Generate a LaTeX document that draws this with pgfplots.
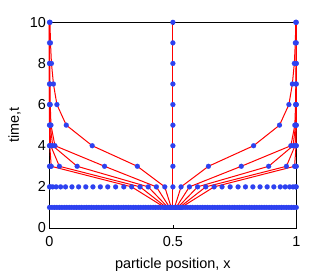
\documentclass[border=0pt]{standalone}
\usepackage{fontspec}
\setmainfont{Liberation Sans}
\usepackage{pgfplots}
\pgfplotsset{compat=1.18}
\definecolor{dotblue}{RGB}{45,65,240}
\definecolor{trajred}{RGB}{255,0,0}
\begin{document}
\begin{tikzpicture}
\useasboundingbox (-49.5bp,-45bp) rectangle (277.5bp,228bp);
\begin{axis}[
  at={(0,0)}, anchor=south west,
  scale only axis,
  width=246.8bp, height=205.7bp,
  xmin=0, xmax=1, ymin=0, ymax=10,
  clip=false,
  xtick={0,0.5,1}, xticklabels={0,0.5,1},
  ytick={0,2,4,6,8,10},
  tick align=inside, tick pos=both,
  major tick length=2.5bp,
  axis line style={line width=0.6bp, black},
  every tick/.style={black, line width=0.5bp},
  /pgf/number format/assume math mode=true,
  tick label style={font=\fontsize{14.5}{15}\selectfont},
  xticklabel style={yshift=-5bp},
  label style={font=\fontsize{14.5}{15}\selectfont},
  xlabel={particle position, x},
  ylabel={time,t},
  xlabel style={at={(axis description cs:0.5,-0.1945)}, anchor=base},
  ylabel style={at={(axis description cs:-0.142,0.5)}, anchor=center},
  traj/.style={draw=trajred, line width=1bp, mark=none},
]
% trajectories (red)
\addplot[traj] coordinates {(0.5,1)(0.5,2)(0.5,3)(0.5,4)(0.5,5)(0.5,6)(0.5,7)(0.5,8)(0.5,9)(0.5,10)};
\addplot[traj] coordinates {(0.4933,1)(0.467,2)(0.356,3)(0.173,4)(0.068,5)(0.030,6)(0.016,7)(0.008,8)(0.004,9)(0.002,10)};
\addplot[traj] coordinates {(0.4867,1)(0.433,2)(0.223,3)(0.022,4)(0.006,5)(0.003,6)(0.002,7)(0.001,8)(0,9)(0,10)};
\addplot[traj] coordinates {(0.48,1)(0.400,2)(0.112,3)(0.013,4)(0.003,5)(0.001,6)(0,7)(0,8)(0,9)(0,10)};
\addplot[traj] coordinates {(0.4733,1)(0.367,2)(0.040,3)(0.005,4)(0.001,5)(0,6)(0,7)(0,8)(0,9)(0,10)};
\addplot[traj] coordinates {(0.4667,1)(0.333,2)(0.007,3)(0.001,4)(0,5)(0,6)(0,7)(0,8)(0,9)(0,10)};
\addplot[traj] coordinates {(0.5067,1)(0.533,2)(0.644,3)(0.827,4)(0.932,5)(0.970,6)(0.984,7)(0.992,8)(0.996,9)(0.998,10)};
\addplot[traj] coordinates {(0.5133,1)(0.567,2)(0.777,3)(0.978,4)(0.994,5)(0.997,6)(0.998,7)(0.999,8)(1,9)(1,10)};
\addplot[traj] coordinates {(0.52,1)(0.600,2)(0.888,3)(0.987,4)(0.997,5)(0.999,6)(1,7)(1,8)(1,9)(1,10)};
\addplot[traj] coordinates {(0.5267,1)(0.633,2)(0.960,3)(0.995,4)(0.999,5)(1,6)(1,7)(1,8)(1,9)(1,10)};
\addplot[traj] coordinates {(0.5333,1)(0.667,2)(0.993,3)(0.999,4)(1,5)(1,6)(1,7)(1,8)(1,9)(1,10)};
% particles (blue)
\addplot[only marks, color=dotblue, mark=*, mark size=2.5bp, mark options={draw=dotblue, fill=dotblue, line width=0.1bp}] coordinates {
(0,1)(0.01,1)(0.02,1)(0.03,1)(0.04,1)(0.05,1)(0.06,1)(0.07,1)(0.08,1)(0.09,1)
(0.1,1)(0.11,1)(0.12,1)(0.13,1)(0.14,1)(0.15,1)(0.16,1)(0.17,1)(0.18,1)(0.19,1)
(0.2,1)(0.21,1)(0.22,1)(0.23,1)(0.24,1)(0.25,1)(0.26,1)(0.27,1)(0.28,1)(0.29,1)
(0.3,1)(0.31,1)(0.32,1)(0.33,1)(0.34,1)(0.35,1)(0.36,1)(0.37,1)(0.38,1)(0.39,1)
(0.4,1)(0.41,1)(0.42,1)(0.43,1)(0.44,1)(0.45,1)(0.46,1)(0.47,1)(0.48,1)(0.49,1)
(0.5,1)(0.51,1)(0.52,1)(0.53,1)(0.54,1)(0.55,1)(0.56,1)(0.57,1)(0.58,1)(0.59,1)
(0.6,1)(0.61,1)(0.62,1)(0.63,1)(0.64,1)(0.65,1)(0.66,1)(0.67,1)(0.68,1)(0.69,1)
(0.7,1)(0.71,1)(0.72,1)(0.73,1)(0.74,1)(0.75,1)(0.76,1)(0.77,1)(0.78,1)(0.79,1)
(0.8,1)(0.81,1)(0.82,1)(0.83,1)(0.84,1)(0.85,1)(0.86,1)(0.87,1)(0.88,1)(0.89,1)
(0.9,1)(0.91,1)(0.92,1)(0.93,1)(0.94,1)(0.95,1)(0.96,1)(0.97,1)(0.98,1)(0.99,1)(1,1)
(0.4667,1)(0.4733,1)(0.4867,1)(0.4933,1)(0.5067,1)(0.5133,1)(0.5267,1)(0.5333,1)
(0,2)(0.003,2)(0.013,2)(0.027,2)(0.045,2)(0.065,2)(0.091,2)(0.118,2)(0.147,2)(0.176,2)
(0.206,2)(0.236,2)(0.268,2)(0.301,2)(0.333,2)(0.367,2)(0.400,2)(0.433,2)(0.467,2)(0.5,2)
(0.533,2)(0.567,2)(0.600,2)(0.633,2)(0.667,2)(0.699,2)(0.732,2)(0.764,2)(0.794,2)(0.824,2)
(0.853,2)(0.882,2)(0.909,2)(0.935,2)(0.955,2)(0.973,2)(0.987,2)(0.997,2)(1,2)
(0,3)(0.002,3)(0.007,3)(0.040,3)(0.112,3)(0.223,3)(0.356,3)(0.5,3)(0.644,3)(0.777,3)(0.888,3)(0.960,3)(0.993,3)(0.998,3)(1,3)
(0,4)(0.001,4)(0.005,4)(0.013,4)(0.022,4)(0.173,4)(0.5,4)(0.827,4)(0.978,4)(0.987,4)(0.995,4)(0.999,4)(1,4)
(0,5)(0.001,5)(0.003,5)(0.006,5)(0.068,5)(0.5,5)(0.932,5)(0.994,5)(0.997,5)(0.999,5)(1,5)
(0,6)(0.001,6)(0.003,6)(0.030,6)(0.5,6)(0.970,6)(0.997,6)(0.999,6)(1,6)
(0,7)(0.002,7)(0.016,7)(0.5,7)(0.984,7)(0.998,7)(1,7)
(0,8)(0.001,8)(0.008,8)(0.5,8)(0.992,8)(0.999,8)(1,8)
(0,9)(0.004,9)(0.5,9)(0.996,9)(1,9)
(0,10)(0.002,10)(0.5,10)(0.998,10)(1,10)
};
\end{axis}
\end{tikzpicture}
\end{document}
